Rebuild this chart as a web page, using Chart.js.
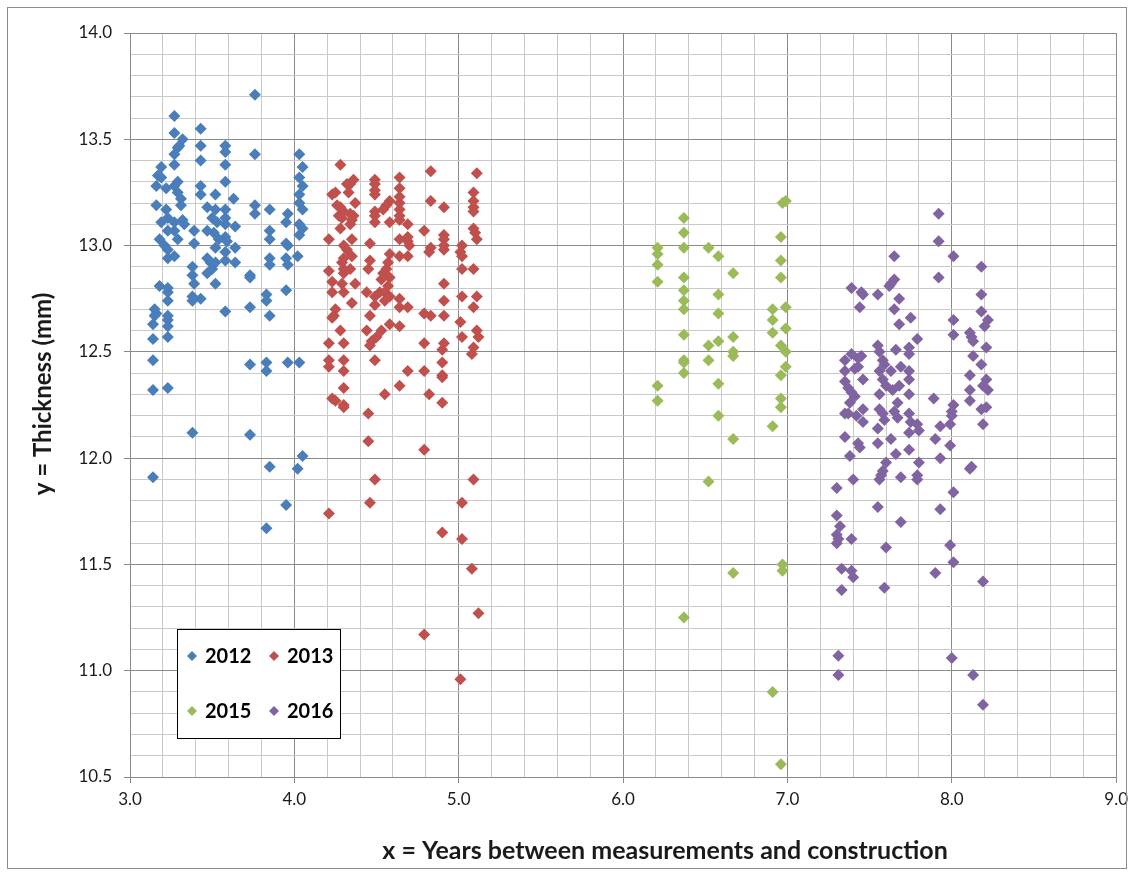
<!DOCTYPE html>
<html>
<head>
<meta charset="utf-8">
<script src="https://cdn.jsdelivr.net/npm/chart.js@4.4.0/dist/chart.umd.min.js"></script>
<style>
  html, body { margin: 0; padding: 0; background: #ffffff; }
  #wrap { width: 1134px; height: 876px; }
</style>
</head>
<body>
<div id="wrap"><canvas id="chart" width="1134" height="876"></canvas></div>
<script>
// Years between measurements and construction (x) and thickness in mm (y), one pair of arrays per survey year
const years2012 = [3.76,3.27,3.27,3.43,3.32,3.30,3.29,3.27,3.43,3.58,3.58,3.76,4.03,3.27,3.43,3.58,3.19,4.05,3.17,3.19,3.58,4.03,4.05,3.29,3.27,3.16,3.22,3.29,3.43,3.43,3.52,3.63,4.03,3.16,3.22,3.31,3.31,3.47,3.52,3.58,3.76,3.76,3.85,3.96,4.03,4.05,3.19,3.23,3.27,3.32,3.33,3.39,3.50,3.53,3.58,3.58,3.64,3.85,3.95,4.03,4.05,3.18,3.23,3.27,3.29,3.47,3.51,3.54,3.58,3.59,3.85,3.95,3.96,4.03,3.21,3.23,3.39,3.52,3.64,3.58,3.23,3.27,3.47,3.49,3.52,3.58,3.64,3.85,3.85,3.95,3.96,4.02,3.38,3.38,3.47,3.50,3.73,3.73,3.18,3.52,3.23,3.23,3.23,3.39,3.38,3.38,3.43,3.83,3.83,3.95,3.15,3.16,3.15,3.14,3.23,3.23,3.23,3.14,3.23,3.58,3.73,3.85,3.14,3.73,3.83,3.83,3.96,4.03,3.14,3.23,3.38,3.73,4.05,3.85,4.02,3.14,3.83,3.95];
const thick2012 = [13.71,13.61,13.53,13.55,13.50,13.47,13.46,13.43,13.47,13.47,13.44,13.43,13.43,13.38,13.40,13.38,13.37,13.37,13.33,13.32,13.30,13.32,13.28,13.30,13.28,13.28,13.27,13.25,13.28,13.24,13.24,13.22,13.24,13.19,13.17,13.22,13.19,13.18,13.17,13.17,13.19,13.15,13.17,13.15,13.20,13.17,13.11,13.13,13.11,13.12,13.10,13.07,13.13,13.11,13.13,13.10,13.09,13.07,13.11,13.10,13.08,13.03,13.07,13.07,13.03,13.07,13.06,13.03,13.04,13.02,13.03,13.01,13.00,13.05,13.00,12.98,13.01,12.99,12.99,12.97,12.94,12.95,12.94,12.92,12.92,12.93,12.92,12.94,12.91,12.94,12.91,12.95,12.90,12.86,12.87,12.89,12.86,12.85,12.81,12.82,12.80,12.78,12.74,12.82,12.76,12.74,12.75,12.77,12.74,12.79,12.70,12.68,12.67,12.63,12.67,12.65,12.62,12.56,12.57,12.69,12.71,12.67,12.46,12.44,12.45,12.41,12.45,12.45,12.32,12.33,12.12,12.11,12.01,11.96,11.95,11.91,11.67,11.78];

const years2013 = [4.28,4.83,5.11,4.36,4.34,4.32,4.49,4.49,4.49,4.49,4.64,4.64,4.64,4.25,4.23,4.33,5.09,5.09,5.09,5.09,4.83,4.91,4.37,4.58,4.56,4.54,4.64,4.64,4.64,4.64,4.26,4.28,4.30,4.27,4.29,4.34,4.36,4.35,4.34,4.49,4.49,4.49,4.58,4.69,4.28,4.79,5.09,5.10,5.11,4.91,4.91,4.91,4.91,4.21,4.35,4.64,4.69,4.69,4.70,4.30,4.32,4.46,4.83,4.82,5.02,5.01,5.02,4.30,4.29,4.35,4.30,4.34,4.58,4.64,4.69,4.46,4.57,4.56,4.54,4.58,4.53,4.21,4.45,4.30,5.02,5.09,4.23,4.29,4.37,4.91,4.23,4.30,4.44,4.49,4.52,4.55,4.57,4.58,4.55,4.49,4.64,4.64,4.69,4.91,5.02,5.11,5.09,4.35,4.25,4.24,4.23,4.46,4.79,4.83,4.91,5.01,4.28,4.58,4.64,4.44,4.53,4.50,4.47,4.46,5.02,5.11,5.12,4.21,4.30,4.79,4.91,5.09,4.90,5.08,4.21,4.21,4.30,4.30,4.49,4.69,4.79,4.90,4.90,4.90,4.64,4.30,4.55,4.82,4.23,4.25,4.30,4.30,4.90,4.45,4.45,4.79,4.49,5.09,4.46,5.02,4.21,4.90,5.02,5.08,5.12,4.79,5.01];
const thick2013 = [13.38,13.35,13.34,13.31,13.29,13.29,13.31,13.29,13.26,13.24,13.32,13.27,13.23,13.25,13.24,13.25,13.25,13.21,13.18,13.16,13.21,13.18,13.20,13.21,13.19,13.17,13.20,13.17,13.14,13.12,13.19,13.18,13.16,13.14,13.13,13.15,13.14,13.12,13.10,13.16,13.14,13.11,13.11,13.10,13.08,13.07,13.08,13.06,13.03,13.05,13.03,13.00,12.98,13.03,13.03,13.03,13.04,13.02,13.00,13.00,12.98,13.01,12.99,12.97,13.00,12.97,12.95,12.94,12.92,12.95,12.89,12.89,12.96,12.95,12.95,12.93,12.92,12.89,12.87,12.85,12.84,12.88,12.89,12.87,12.89,12.89,12.83,12.82,12.82,12.82,12.78,12.78,12.78,12.76,12.78,12.78,12.81,12.76,12.74,12.72,12.75,12.71,12.71,12.74,12.76,12.76,12.71,12.73,12.70,12.67,12.66,12.67,12.68,12.67,12.67,12.64,12.60,12.63,12.62,12.60,12.60,12.57,12.55,12.53,12.57,12.60,12.57,12.54,12.54,12.54,12.54,12.52,12.51,12.49,12.46,12.43,12.46,12.41,12.46,12.41,12.41,12.45,12.39,12.38,12.34,12.33,12.30,12.30,12.28,12.27,12.25,12.24,12.26,12.21,12.08,12.04,11.90,11.90,11.79,11.79,11.74,11.65,11.62,11.48,11.27,11.17,10.96];

const years2015 = [6.97,6.99,6.37,6.37,6.21,6.21,6.21,6.37,6.52,6.58,6.96,6.96,6.96,6.67,6.21,6.37,6.37,6.37,6.37,6.58,6.58,6.91,6.91,6.91,6.99,6.99,6.37,6.52,6.58,6.67,6.67,6.67,6.96,6.99,6.37,6.37,6.37,6.52,6.99,6.96,6.21,6.21,6.58,6.96,6.96,6.58,6.91,6.67,6.52,6.97,6.97,6.67,6.37,6.91,6.96];
const thick2015 = [13.20,13.21,13.13,13.06,12.99,12.96,12.91,12.99,12.99,12.95,13.04,12.93,12.85,12.87,12.83,12.85,12.79,12.74,12.70,12.77,12.68,12.70,12.65,12.59,12.71,12.61,12.58,12.53,12.55,12.57,12.50,12.48,12.53,12.50,12.46,12.45,12.40,12.46,12.43,12.39,12.34,12.27,12.35,12.28,12.24,12.20,12.15,12.09,11.89,11.50,11.47,11.46,11.25,10.90,10.56];

const years2016 = [7.92,7.92,8.01,7.65,8.18,7.92,7.65,7.63,7.62,7.39,7.45,7.46,7.55,8.18,7.68,7.44,7.65,8.18,7.75,8.22,8.20,7.68,8.01,8.01,8.11,8.12,8.13,7.79,8.21,7.55,7.56,7.66,7.74,7.74,7.39,7.35,7.43,7.45,8.13,7.58,7.59,7.69,8.18,7.43,7.41,7.35,7.56,7.63,7.74,8.11,7.35,7.46,7.58,7.74,8.21,8.19,8.22,7.37,7.39,7.60,7.64,7.68,8.11,7.56,7.74,7.89,7.41,7.38,7.46,7.35,7.37,7.42,7.46,7.56,7.58,7.59,7.55,7.67,7.65,7.67,7.74,7.75,7.79,7.80,7.74,7.93,8.01,8.00,8.00,7.99,8.11,8.18,8.21,8.19,7.35,7.43,7.44,7.55,7.63,7.74,7.90,7.99,7.38,7.66,7.93,7.60,7.58,7.57,7.56,7.80,8.12,8.11,7.79,7.79,7.69,7.40,7.30,8.01,7.55,7.93,7.30,7.32,7.30,7.31,7.30,7.39,7.69,7.60,7.99,8.01,7.33,7.39,7.40,7.90,8.19,7.33,7.59,7.31,7.31,8.00,8.13,8.19];
const thick2016 = [13.15,13.02,12.95,12.95,12.90,12.85,12.84,12.82,12.81,12.80,12.78,12.77,12.77,12.77,12.75,12.71,12.70,12.69,12.66,12.65,12.62,12.63,12.65,12.58,12.59,12.57,12.55,12.56,12.52,12.53,12.50,12.51,12.52,12.49,12.49,12.46,12.47,12.48,12.48,12.46,12.44,12.43,12.44,12.43,12.42,12.41,12.41,12.41,12.41,12.39,12.36,12.37,12.37,12.37,12.37,12.34,12.32,12.33,12.31,12.34,12.32,12.34,12.32,12.30,12.30,12.28,12.29,12.26,12.23,12.21,12.21,12.20,12.17,12.23,12.21,12.18,12.14,12.26,12.22,12.19,12.21,12.17,12.16,12.13,12.12,12.15,12.25,12.22,12.20,12.16,12.27,12.23,12.24,12.16,12.10,12.07,12.05,12.07,12.09,12.04,12.09,12.06,12.01,12.02,12.00,11.98,11.94,11.92,11.90,11.98,11.96,11.95,11.92,11.90,11.91,11.90,11.86,11.84,11.77,11.76,11.73,11.68,11.64,11.62,11.60,11.62,11.70,11.58,11.59,11.51,11.48,11.47,11.44,11.46,11.42,11.38,11.39,11.07,10.98,11.06,10.98,10.84];

// Series labels and colours
const seriesLabels = ['2012', '2013', '2015', '2016'];
const seriesColors = ['#4A7EBB', '#C0504D', '#9BBB59', '#8064A2'];
const seriesYears = [years2012, years2013, years2015, years2016];
const seriesThick = [thick2012, thick2013, thick2015, thick2016];

// Axis ranges, grid steps and titles
const xRange = [3, 9];
const yRange = [10.5, 14];
const xMinorStep = 0.2, xMajorStep = 1;
const yMinorStep = 0.1, yMajorStep = 0.5;
const xTitle = 'x = Years between measurements and construction';
const yTitle = 'y = Thickness (mm)';

const MAJOR_GRID = '#8a8a8a';
const MINOR_GRID = '#c9c9c9';
const TEXT = '#1a1a1a';

function isMultiple(v, step) {
  const q = v / step;
  return Math.abs(q - Math.round(q)) < 1e-6;
}

const datasets = seriesLabels.map((label, i) => ({
  label,
  data: seriesYears[i].map((x, j) => ({ x, y: seriesThick[i][j] })),
  backgroundColor: seriesColors[i],
  borderColor: seriesColors[i],
  borderWidth: 0,
  pointStyle: 'rectRot',
  pointRadius: 6,
  pointHoverRadius: 6,
  showLine: false
}));

// Frame, axis titles and the boxed legend
const decorations = {
  id: 'decorations',
  beforeDraw(chart) {
    const { ctx, width, height } = chart;
    ctx.save();
    ctx.fillStyle = '#ffffff';
    ctx.fillRect(0, 0, width, height);
    ctx.restore();
  },
  afterDraw(chart) {
    const { ctx, chartArea: a, width, height } = chart;
    ctx.save();
    // outer frame
    ctx.strokeStyle = '#8c8c8c';
    ctx.lineWidth = 1;
    ctx.strokeRect(7.5, 7.5, width - 15, height - 15);

    // axis titles
    ctx.fillStyle = TEXT;
    ctx.textAlign = 'center';
    ctx.textBaseline = 'middle';
    ctx.font = 'bold 25px Lato, "Liberation Sans", sans-serif';
    ctx.fillText(xTitle, (a.left + a.right) / 2 + 42, a.bottom + 74);
    ctx.save();
    ctx.font = 'bold 24px Lato, "Liberation Sans", sans-serif';
    ctx.translate(43, (a.top + a.bottom) / 2 - 11);
    ctx.rotate(-Math.PI / 2);
    ctx.fillText(yTitle, 0, 0);
    ctx.restore();

    // legend box
    const bx = a.left + 47, by = a.bottom - 148, bw = 163, bh = 109;
    ctx.fillStyle = '#ffffff';
    ctx.fillRect(bx, by, bw, bh);
    ctx.strokeStyle = '#000000';
    ctx.strokeRect(bx + 0.5, by + 0.5, bw, bh);
    ctx.font = 'bold 20px Lato, "Liberation Sans", sans-serif';
    ctx.textAlign = 'left';
    chart.data.datasets.forEach((ds, i) => {
      const col = i % 2, row = Math.floor(i / 2);
      const cx = bx + 15 + col * 82;
      const cy = by + 27 + row * 55;
      const r = 5;
      ctx.fillStyle = ds.backgroundColor;
      ctx.beginPath();
      ctx.moveTo(cx, cy - r);
      ctx.lineTo(cx + r, cy);
      ctx.lineTo(cx, cy + r);
      ctx.lineTo(cx - r, cy);
      ctx.closePath();
      ctx.fill();
      ctx.fillStyle = '#000000';
      ctx.fillText(ds.label, cx + 13, cy + 1);
    });
    ctx.restore();
  }
};

new Chart(document.getElementById('chart'), {
  type: 'scatter',
  data: { datasets },
  plugins: [decorations],
  options: {
    responsive: false,
    animation: false,
    devicePixelRatio: 1,
    layout: { padding: { left: 8, top: 33, right: 17, bottom: 8 } },
    plugins: {
      legend: { display: false },
      tooltip: { enabled: false }
    },
    scales: {
      x: {
        type: 'linear',
        min: xRange[0],
        max: xRange[1],
        afterFit(scale) { scale.height = 91; },
        border: { color: MAJOR_GRID, width: 1 },
        grid: {
          color: c => isMultiple(c.tick.value, xMajorStep) ? MAJOR_GRID : MINOR_GRID,
          tickColor: c => isMultiple(c.tick.value, xMajorStep) ? MAJOR_GRID : 'rgba(0,0,0,0)',
          tickLength: 6,
          lineWidth: 1
        },
        ticks: {
          stepSize: xMinorStep,
          autoSkip: false,
          maxRotation: 0,
          padding: 6,
          color: TEXT,
          font: { family: 'Lato, "Liberation Sans", sans-serif', size: 17 },
          callback: v => isMultiple(v, xMajorStep) ? Number(v).toFixed(1) : ''
        }
      },
      y: {
        type: 'linear',
        min: yRange[0],
        max: yRange[1],
        afterFit(scale) { scale.width = 122; },
        border: { color: MAJOR_GRID, width: 1 },
        grid: {
          color: c => isMultiple(c.tick.value, yMajorStep) ? MAJOR_GRID : MINOR_GRID,
          tickColor: c => isMultiple(c.tick.value, yMajorStep) ? MAJOR_GRID : 'rgba(0,0,0,0)',
          tickLength: 6,
          lineWidth: 1
        },
        ticks: {
          stepSize: yMinorStep,
          autoSkip: false,
          padding: 12,
          color: TEXT,
          font: { family: 'Lato, "Liberation Sans", sans-serif', size: 17 },
          callback: v => isMultiple(v, yMajorStep) ? Number(v).toFixed(1) : ''
        }
      }
    }
  }
});
</script>
</body>
</html>
